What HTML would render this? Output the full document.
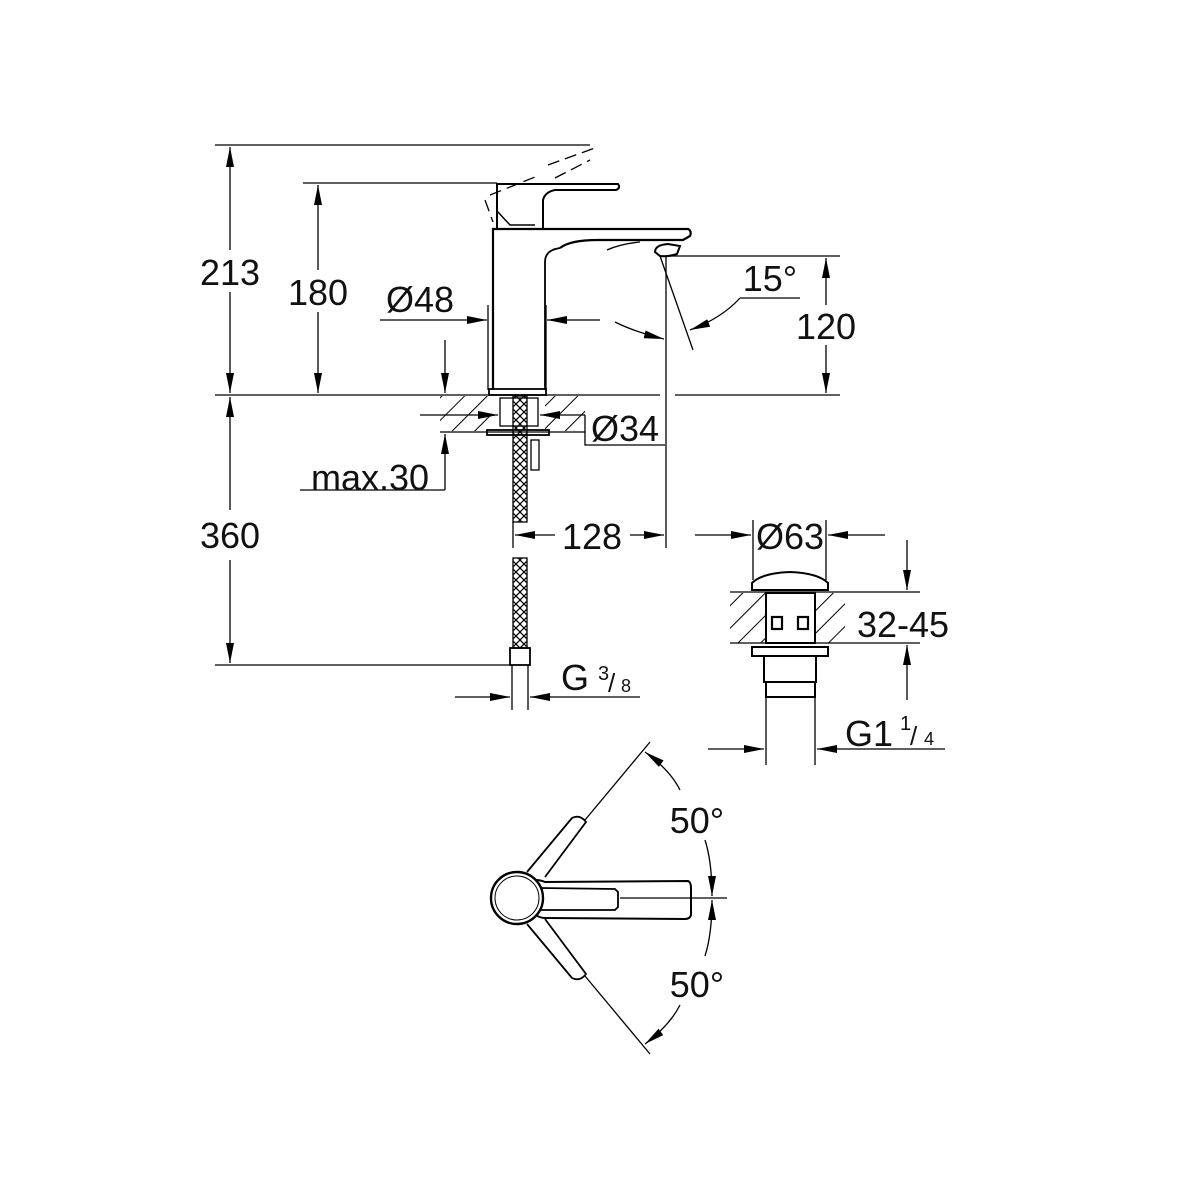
<!DOCTYPE html>
<html><head><meta charset="utf-8"><style>
html,body{margin:0;padding:0;background:#fff}
svg{display:block}
text{font-family:"Liberation Sans",sans-serif;fill:#111}
</style></head><body>
<svg width="1200" height="1200" viewBox="0 0 1200 1200" xmlns="http://www.w3.org/2000/svg">
<defs>
<marker id="a" viewBox="0 0 20 8" refX="20" refY="4" markerWidth="20" markerHeight="8" orient="auto-start-reverse" markerUnits="userSpaceOnUse"><path d="M0,0L20,4L0,8z" fill="#000"/></marker>
<pattern id="h" width="16" height="16" patternUnits="userSpaceOnUse" patternTransform="rotate(45)"><line x1="0" y1="0" x2="0" y2="16" stroke="#000" stroke-width="2"/></pattern>
<pattern id="x" width="8" height="8" patternUnits="userSpaceOnUse"><path d="M0,0L8,8M8,0L0,8" stroke="#000" stroke-width="1.2"/></pattern>
</defs>
<g stroke="#000" fill="none" stroke-width="1.3">
<line x1="215" y1="145" x2="590" y2="145"/>
<line x1="303" y1="183" x2="497" y2="183"/>
<line x1="215" y1="395" x2="660" y2="395"/>
<line x1="675" y1="395" x2="840" y2="395"/>
<line x1="665" y1="256" x2="840" y2="256"/>
<line x1="215" y1="665" x2="512" y2="665"/>
<line x1="230" y1="147" x2="230" y2="250" marker-start="url(#a)"/>
<line x1="230" y1="292" x2="230" y2="393" marker-end="url(#a)"/>
<line x1="318" y1="185" x2="318" y2="270" marker-start="url(#a)"/>
<line x1="318" y1="312" x2="318" y2="393" marker-end="url(#a)"/>
<line x1="826" y1="258" x2="826" y2="305" marker-start="url(#a)"/>
<line x1="826" y1="345" x2="826" y2="393" marker-end="url(#a)"/>
<line x1="230" y1="397" x2="230" y2="510" marker-start="url(#a)"/>
<line x1="230" y1="560" x2="230" y2="663" marker-end="url(#a)"/>
<line x1="380" y1="320" x2="487" y2="320" marker-end="url(#a)"/>
<line x1="600" y1="320" x2="547" y2="320" marker-end="url(#a)"/>
<line x1="488" y1="305" x2="488" y2="390"/>
<line x1="546" y1="305" x2="546" y2="390"/>
<path d="M615,322 Q635,332 664,339" marker-end="url(#a)"/>
<line x1="666" y1="256" x2="666" y2="548"/>
<line x1="660" y1="256" x2="693" y2="350"/>
<path d="M740,298 Q722,318 690,330" marker-end="url(#a)"/>
<line x1="740" y1="298" x2="800" y2="298"/>
<path d="M493,390 L493,229 L688,229 Q692,231 690,236 L683,240 L598,240 Q570,240 560,248" stroke-width="2.2"/>
<path d="M545,390 L545,262 Q545,250 560,248" stroke-width="1.8"/>
<path d="M607,250 Q620,244 640,242"/>
<path d="M655,252 Q655,245 668,244 L680,246 L677,254 Q668,257 660,256 Z" stroke-width="2"/>
<rect x="489" y="389" width="57" height="6" stroke-width="1.8"/>
<path d="M497,228 L497,184 L618,184 Q621,188 616,190 L555,190 Q545,192 543,200 L543,228" stroke-width="2"/>
<path d="M497,211 L510,225 L535,225" stroke-width="1.5"/>
<path d="M485,200 L493,222 M490,195 L540,175 M548,165 L595,148 L596,145 M555,178 L590,160" stroke-dasharray="12,6"/>
<rect x="440" y="396" width="52" height="35" fill="url(#h)" stroke="none"/>
<rect x="545" y="396" width="40" height="35" fill="url(#h)" stroke="none"/>
<line x1="440" y1="432" x2="585" y2="432"/>
<rect x="500" y="398" width="38" height="28" fill="#fff"/>
<rect x="487" y="430" width="62" height="5" stroke-width="1.8"/>
<rect x="513" y="396" width="14" height="126" fill="url(#x)"/>
<rect x="531" y="440" width="8" height="30"/>
<path d="M585,415 L585,445 L665,445"/>
<line x1="420" y1="415" x2="498" y2="415" marker-end="url(#a)"/>
<line x1="585" y1="415" x2="540" y2="415" marker-end="url(#a)"/>
<line x1="445" y1="340" x2="445" y2="393" marker-end="url(#a)"/>
<line x1="445" y1="490" x2="445" y2="434" marker-end="url(#a)"/>
<line x1="300" y1="490" x2="445" y2="490"/>
<line x1="555" y1="535" x2="515" y2="535" marker-end="url(#a)"/>
<line x1="630" y1="535" x2="664" y2="535" marker-end="url(#a)"/>
<line x1="513" y1="522" x2="513" y2="548"/>
<rect x="513" y="558" width="14" height="90" fill="url(#x)"/>
<rect x="510" y="648" width="20" height="17" stroke-width="1.8"/>
<line x1="512" y1="665" x2="512" y2="710"/>
<line x1="528" y1="665" x2="528" y2="710"/>
<line x1="455" y1="697" x2="510" y2="697" marker-end="url(#a)"/>
<line x1="640" y1="697" x2="530" y2="697" marker-end="url(#a)"/>
<line x1="695" y1="535" x2="751" y2="535" marker-end="url(#a)"/>
<line x1="885" y1="535" x2="828" y2="535" marker-end="url(#a)"/>
<line x1="753" y1="520" x2="753" y2="580"/>
<line x1="826" y1="520" x2="826" y2="580"/>
<path d="M752,590 L752,583 Q762,573 790,572 Q818,573 828,583 L828,590 Z" stroke-width="2"/>
<rect x="730" y="593" width="38" height="50" fill="url(#h)" stroke="none"/>
<rect x="813" y="593" width="32" height="50" fill="url(#h)" stroke="none"/>
<line x1="730" y1="592" x2="920" y2="592"/>
<line x1="730" y1="643" x2="920" y2="643"/>
<rect x="766" y="593" width="49" height="50" stroke-width="2" fill="#fff"/>
<rect x="772" y="617" width="10" height="12" stroke-width="2.2"/>
<rect x="798" y="617" width="10" height="12" stroke-width="2.2"/>
<rect x="752" y="647" width="76" height="9" stroke-width="2"/>
<rect x="764" y="656" width="52" height="26" stroke-width="2"/>
<rect x="766" y="682" width="49" height="15" stroke-width="2"/>
<line x1="766" y1="697" x2="766" y2="765"/>
<line x1="815" y1="697" x2="815" y2="765"/>
<line x1="907" y1="540" x2="907" y2="590" marker-end="url(#a)"/>
<line x1="907" y1="700" x2="907" y2="645" marker-end="url(#a)"/>
<line x1="708" y1="749" x2="764" y2="749" marker-end="url(#a)"/>
<line x1="945" y1="749" x2="817" y2="749" marker-end="url(#a)"/>
<circle cx="517" cy="898" r="26" stroke-width="2.4"/>
<circle cx="517" cy="898" r="22" stroke-width="1"/>
<path d="M536,880 Q540,880 545,882 L688,881 Q691,882 691,888 L691,915 Q690,919 685,919 L545,918 Q540,918 536,915" stroke-width="2"/>
<path d="M541,888 L615,889 L618,892 L618,907 L615,910 L541,910" stroke-width="1.8"/>
<line x1="620" y1="898" x2="727" y2="898"/>
<path d="M527,872 L572,818 Q580,814 586,822 L545,877" stroke-width="1.8"/>
<line x1="585" y1="820" x2="650" y2="742"/>
<path d="M527,924 L572,978 Q580,982 586,974 L545,919" stroke-width="1.8"/>
<line x1="585" y1="976" x2="650" y2="1054"/>
<path d="M680,790 Q670,770 645,752" marker-end="url(#a)"/>
<path d="M705,840 Q712,862 712,896" marker-end="url(#a)"/>
<path d="M705,956 Q712,934 712,900" marker-end="url(#a)"/>
<path d="M680,1005 Q670,1025 645,1044" marker-end="url(#a)"/>
</g>
<g font-size="36">
<text x="230" y="285" text-anchor="middle">213</text>
<text x="318" y="305" text-anchor="middle">180</text>
<text x="420" y="312" text-anchor="middle">Ø48</text>
<text x="770" y="291" text-anchor="middle">15°</text>
<text x="826" y="339" text-anchor="middle">120</text>
<text x="625" y="441" text-anchor="middle">Ø34</text>
<text x="370" y="490" text-anchor="middle">max.30</text>
<text x="230" y="548" text-anchor="middle">360</text>
<text x="592" y="549" text-anchor="middle">128</text>
<text x="790" y="549" text-anchor="middle">Ø63</text>
<text x="903" y="637" text-anchor="middle">32-45</text>
<text x="561" y="690">G</text>
<text x="598" y="680" font-size="20">3</text><text x="608" y="692" font-size="26">/</text><text x="621" y="692" font-size="18">8</text>
<text x="845" y="746">G1</text>
<text x="900" y="730" font-size="20">1</text><text x="910" y="745" font-size="26">/</text><text x="924" y="745" font-size="18">4</text>
<text x="697" y="833" text-anchor="middle">50°</text>
<text x="697" y="997" text-anchor="middle">50°</text>
</g>
</svg>
</body></html>
